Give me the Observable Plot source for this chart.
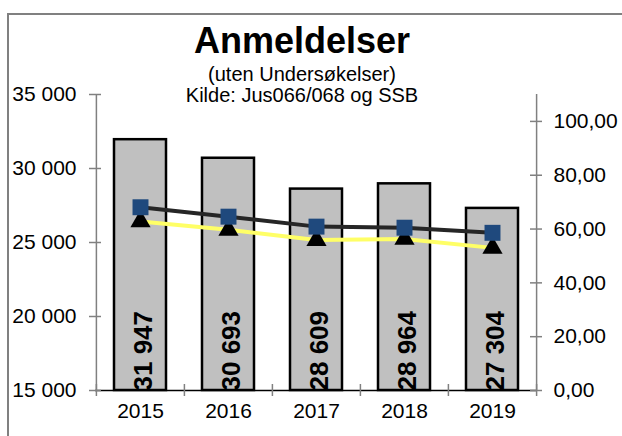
<!DOCTYPE html>
<html>
<head>
<meta charset="utf-8">
<script src="https://cdn.jsdelivr.net/npm/d3@7"></script>
<script src="https://cdn.jsdelivr.net/npm/@observablehq/plot@0.6"></script>
<style>
  html, body { margin: 0; padding: 0; background: #fff; }
  #wrap { position: relative; width: 622px; height: 436px; overflow: hidden; }
  #border { position: absolute; left: 7px; top: 13px; width: 700px; height: 500px;
            border-top: 2px solid #808080; border-left: 2px solid #808080; pointer-events: none; }
</style>
</head>
<body>
<div id="wrap"><div id="border"></div></div>
<script>
// ---- data ----
const years = ["2015", "2016", "2017", "2018", "2019"];
const anmeldelser = [31947, 30693, 28609, 28964, 27304];
const blackSquares = [68.1, 64.6, 60.9, 60.5, 58.6];
const yellowTriangles = [62.8, 59.7, 55.9, 56.3, 53.0];
const leftTicks = [15000, 20000, 25000, 30000, 35000];
const rightTicks = [0, 20, 40, 60, 80, 100];
const leftDomain = [15000, 35000];
const rightDomain = [0, 110];
const titleText = "Anmeldelser";
const subtitleText = "(uten Undersøkelser)";
const sourceText = "Kilde: Jus066/068 og SSB";

// ---- helpers ----
const loc = d3.formatLocale({decimal: ",", thousands: " ", grouping: [3], currency: ["", ""]});
const fmtInt = loc.format(",d");
const fmt2 = loc.format(".2f");
const toLeft = v => leftDomain[0] + (v - rightDomain[0]) * (leftDomain[1] - leftDomain[0]) / (rightDomain[1] - rightDomain[0]);
const toRight = v => rightDomain[0] + (v - leftDomain[0]) * (rightDomain[1] - rightDomain[0]) / (leftDomain[1] - leftDomain[0]);

const bars = years.map((y, i) => ({year: y, value: anmeldelser[i]}));
const sq = years.map((y, i) => ({year: y, v: toLeft(blackSquares[i])}));
const tri = years.map((y, i) => ({year: y, v: toLeft(yellowTriangles[i])}));

const W = 622, H = 436, mL = 95, mR = 86, mT = 94, mB = 46;
const fW = W - mL - mR, fH = H - mT - mB;
const step = fW / years.length;

const chart = Plot.plot({
  width: W, height: H,
  marginLeft: mL, marginRight: mR, marginTop: mT, marginBottom: mB,
  style: {fontFamily: "'Liberation Sans', Arial, sans-serif", fontSize: "21px", color: "#000", background: "transparent"},
  x: {type: "band", domain: years, paddingInner: 0.41, paddingOuter: 0.205, axis: null},
  y: {domain: leftDomain, axis: null},
  marks: [
    Plot.barY(bars, {x: "year", y1: leftDomain[0], y2: "value", fill: "#c0c0c0", stroke: "#000", strokeWidth: 2.5}),
    // axis lines
    Plot.ruleY([leftDomain[0]], {stroke: "#000", strokeWidth: 1.5}),
    Plot.ruleX([years[0]], {x: d => d, dx: -step / 2, stroke: "#808080", strokeWidth: 1.5}),
    Plot.ruleX([years[years.length - 1]], {x: d => d, dx: step / 2, stroke: "#808080", strokeWidth: 1.5}),
    // x boundary ticks (crossing)
    Plot.ruleX(years, {x: d => d, dx: -step / 2, insetTop: fH - 6, insetBottom: -6, stroke: "#808080", strokeWidth: 1.5}),
    Plot.ruleX([years[years.length - 1]], {x: d => d, dx: step / 2, insetTop: fH - 6, insetBottom: -6, stroke: "#808080", strokeWidth: 1.5}),
    // y ticks (crossing)
    Plot.ruleY(leftTicks, {y: d => d, insetRight: fW - 12, dx: -6, stroke: "#808080", strokeWidth: 1.5}),
    Plot.ruleY(rightTicks.map(toLeft), {y: d => d, insetLeft: fW - 12, dx: 6, stroke: "#808080", strokeWidth: 1.5}),
    // axis labels
    Plot.axisY({ticks: leftTicks, tickSize: 0, tickPadding: 19, tickFormat: d => fmtInt(d), label: null}),
    Plot.axisY({anchor: "right", ticks: rightTicks.map(toLeft), tickSize: 0, tickPadding: 17, tickFormat: d => fmt2(Math.round(toRight(d) * 100) / 100), label: null}),
    Plot.axisX({tickSize: 0, tickPadding: 13, label: null}),
    // bar labels
    Plot.text(bars, {x: "year", y: leftDomain[0], text: d => fmtInt(d.value), rotate: -90, textAnchor: "start", lineAnchor: "middle", dx: 3, fontSize: 26, fontWeight: "bold", fill: "#000"}),
    // lines
    Plot.line(tri, {x: "year", y: "v", stroke: "#ffff66", strokeWidth: 4}),
    Plot.line(sq, {x: "year", y: "v", stroke: "#262626", strokeWidth: 4}),
    Plot.dot(tri, {x: "year", y: "v", symbol: "triangle", r: 7.5, fill: "#000"}),
    Plot.dot(sq, {x: "year", y: "v", symbol: "square", r: 9, fill: "#1f497d"}),
    // titles
    Plot.text([titleText], {frameAnchor: "top", dx: -14, dy: -42, lineAnchor: "bottom", fontSize: 36, fontWeight: "bold", fill: "#000"}),
    Plot.text([subtitleText], {frameAnchor: "top", dx: -14, dy: -14, lineAnchor: "bottom", fontSize: 20, fill: "#000"}),
    Plot.text([sourceText], {frameAnchor: "top", dx: -14, dy: 7, lineAnchor: "bottom", fontSize: 20, fill: "#000"})
  ]
});
chart.style.position = "absolute";
chart.style.left = "0px";
chart.style.top = "0px";
document.getElementById("wrap").prepend(chart);
</script>
</body>
</html>
